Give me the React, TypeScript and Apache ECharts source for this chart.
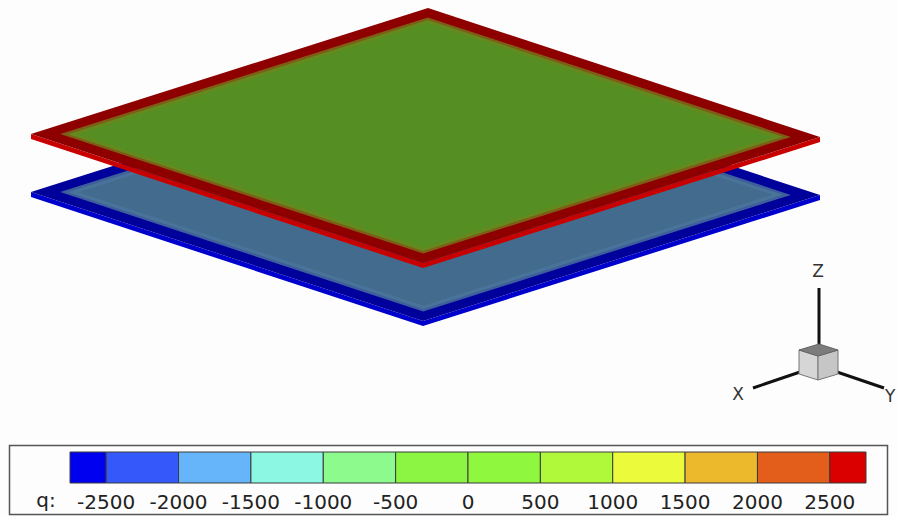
import React, { useEffect, useRef } from "react";
import * as echarts from "echarts";

// ---- colour legend (q) ----
const qBounds = [-2750, -2500, -2000, -1500, -1000, -500, 0, 500, 1000, 1500, 2000, 2500, 2750];
const qColors = [
  "#0000f0", "#3558fa", "#66b4fa", "#8cf8e4", "#8cfa8c", "#8cf442",
  "#8ff83e", "#b0f83a", "#ecfa3c", "#ecb82c", "#e25e1a", "#da0000",
];
const qTicks = [-2500, -2000, -1500, -1000, -500, 0, 500, 1000, 1500, 2000, 2500];

// ---- plates (lower, upper) ----
const plateNames = ["lower", "upper"];
const plateDrop = [58, 0];
const plateSide = ["#0000cc", "#c80000"];
const plateRingColors = [
  ["#00009a", "#3f5f9c", "#4a7399", "#436b8e"],
  ["#8e0000", "#7e5e16", "#64891f", "#558e22"],
];

// layout constants
const W = 897;
const H = 516;
const T0 = [428, 8];
const EU = [392, 129];
const EV = [-397, 126];
const RING_INSET = [0, 0.037, 0.047, 0.06];
const THICK = 5;

function proj(u: number, v: number, drop: number) {
  return [T0[0] + u * EU[0] + v * EV[0], T0[1] + u * EU[1] + v * EV[1] + drop];
}

export default function App() {
  const ref = useRef<HTMLDivElement>(null);
  useEffect(() => {
    document.body.style.margin = "0";
    const chart = echarts.init(ref.current!, undefined, { renderer: "svg" });
    const font = "DejaVu Sans";

    const plateData = plateNames.map((n, i) => ({ name: n, value: [i, 0] }));
    const cellData = qColors.map((c, i) => ({ value: [qBounds[i], qBounds[i + 1], i] }));

    chart.setOption({
      animation: false,
      backgroundColor: "#fdfdfd",
      grid: [
        { left: 0, top: 0, right: 0, bottom: 0 },
        { left: 70, top: 452, width: 796, height: 31 },
      ],
      xAxis: [
        { gridIndex: 0, type: "value", min: 0, max: W, show: false },
        {
          gridIndex: 1,
          type: "value",
          min: -2750,
          max: 2750,
          axisLine: { show: false },
          axisTick: { show: false },
          splitLine: { show: false },
          axisLabel: {
            customValues: qTicks,
            formatter: (v: number) => String(v),
            margin: 9,
            fontFamily: font,
            fontSize: 20,
            color: "#222",
          },
        },
      ],
      yAxis: [
        { gridIndex: 0, type: "value", min: 0, max: H, inverse: true, show: false },
        { gridIndex: 1, type: "value", min: 0, max: 1, show: false },
      ],
      series: [
        {
          type: "custom",
          xAxisIndex: 0,
          yAxisIndex: 0,
          data: plateData,
          renderItem: (params: any, api: any) => {
            const i = api.value(0);
            const drop = plateDrop[i];
            const c = (p: number[]) => api.coord(p);
            const children: any[] = [];
            const L = proj(0, 1, drop), B = proj(1, 1, drop), R = proj(1, 0, drop);
            const side = [L, B, R, [R[0], R[1] + THICK], [B[0], B[1] + THICK], [L[0], L[1] + THICK]];
            children.push({
              type: "polygon",
              shape: { points: side.map(c) },
              style: { fill: plateSide[i] },
            });
            RING_INSET.forEach((a, k) => {
              const pts = [proj(a, a, drop), proj(1 - a, a, drop), proj(1 - a, 1 - a, drop), proj(a, 1 - a, drop)];
              children.push({
                type: "polygon",
                shape: { points: pts.map(c) },
                style: { fill: plateRingColors[i][k] },
              });
            });
            return { type: "group", children };
          },
        },
        {
          type: "custom",
          xAxisIndex: 1,
          yAxisIndex: 1,
          data: cellData,
          renderItem: (params: any, api: any) => {
            const p0 = api.coord([api.value(0), 1]);
            const p1 = api.coord([api.value(1), 0]);
            return {
              type: "rect",
              shape: { x: p0[0], y: p0[1], width: p1[0] - p0[0], height: p1[1] - p0[1] },
              style: { fill: qColors[api.value(2)], stroke: "#3a3a3a", lineWidth: 1 },
            };
          },
        },
      ],
      graphic: [
        {
          type: "rect",
          shape: { x: 9.5, y: 445.5, width: 878, height: 69 },
          style: { fill: "none", stroke: "#555", lineWidth: 1.5 },
        },
        {
          type: "text",
          x: 46,
          y: 500,
          style: { text: "q:", font: `20px "${font}"`, fill: "#222", textAlign: "center", textVerticalAlign: "middle" },
        },
        // axis triad
        { type: "line", shape: { x1: 819, y1: 288, x2: 819, y2: 346 }, style: { stroke: "#111", lineWidth: 3 } },
        { type: "line", shape: { x1: 800, y1: 372, x2: 753, y2: 388 }, style: { stroke: "#111", lineWidth: 3 } },
        { type: "line", shape: { x1: 837, y1: 372, x2: 884, y2: 388 }, style: { stroke: "#111", lineWidth: 3 } },
        {
          type: "polygon",
          shape: { points: [[799, 350], [818, 356], [818, 380], [799, 374]] },
          style: { fill: "#d6d6d6", stroke: "#777", lineWidth: 1 },
        },
        {
          type: "polygon",
          shape: { points: [[818, 356], [838, 350], [838, 374], [818, 380]] },
          style: { fill: "#c6c6c6", stroke: "#777", lineWidth: 1 },
        },
        {
          type: "polygon",
          shape: { points: [[819, 344], [838, 350], [818, 356], [799, 350]] },
          style: { fill: "#7c7c7c", stroke: "#666", lineWidth: 1 },
        },
        {
          type: "text",
          x: 818,
          y: 271,
          style: { text: "Z", font: `17px "${font}"`, fill: "#333", textAlign: "center", textVerticalAlign: "middle" },
        },
        {
          type: "text",
          x: 738,
          y: 394,
          style: { text: "X", font: `17px "${font}"`, fill: "#333", textAlign: "center", textVerticalAlign: "middle" },
        },
        {
          type: "text",
          x: 885,
          y: 396,
          style: { text: "Y", font: `17px "${font}"`, fill: "#333", textAlign: "left", textVerticalAlign: "middle" },
        },
      ],
    });
    return () => chart.dispose();
  }, []);
  return <div ref={ref} style={{ width: W, height: H }} />;
}
